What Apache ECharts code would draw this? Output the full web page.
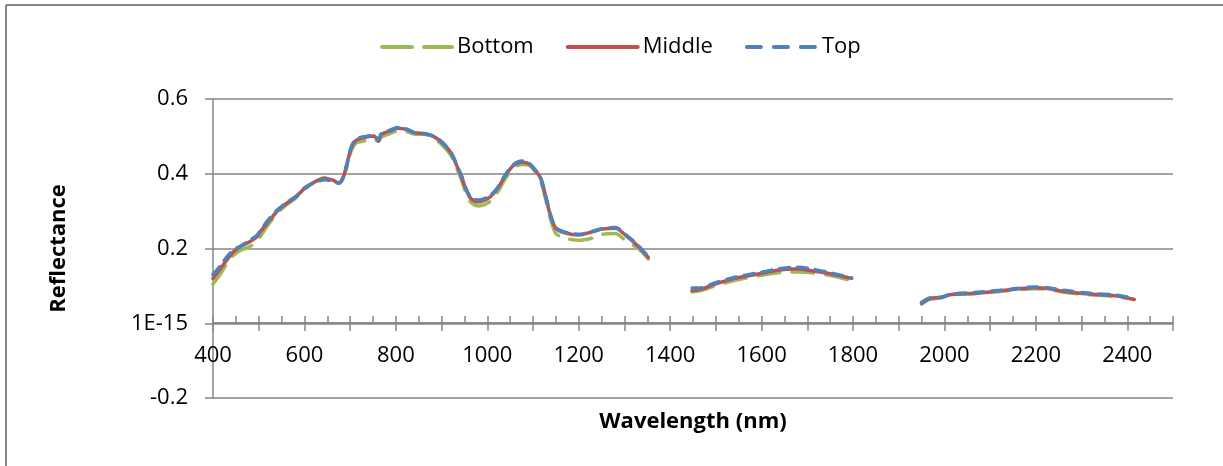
<!DOCTYPE html>
<html>
<head>
<meta charset="UTF-8">
<title>Reflectance</title>
<script src="https://cdn.jsdelivr.net/npm/echarts@6/dist/echarts.min.js"></script>
<style>
  html, body { margin: 0; padding: 0; background: #fff; }
  #main { width: 1223px; height: 466px; }
</style>
</head>
<body>
<div id="main"></div>
<script type="text/javascript">
// wavelengths (nm); null rows break the line at the water absorption gaps
var wavelength = [400, 415, 430, 445, 460, 480, 495, 505, 520, 540, 560, 580, 600, 625, 645, 662, 675, 683, 692, 702,
    713, 735, 752, 762, 768, 786, 805, 825, 840, 865, 885, 900, 920, 932, 943, 953, 964, 982, 1004, 1022,
    1040, 1058, 1076, 1091, 1105, 1117, 1128, 1138, 1150, 1170, 1200, 1230, 1252, 1280, 1302, 1330, 1352,
    1400,
    1448, 1470, 1498, 1542, 1593, 1636, 1673, 1702, 1753, 1797,
    1870,
    1950, 1968, 1993, 2015, 2066, 2138, 2197, 2226, 2262, 2320, 2378, 2415];

var bottom = [0.105, 0.130, 0.158, 0.182, 0.195, 0.205, 0.218, 0.235, 0.262, 0.294, 0.316, 0.334, 0.358, 0.380, 0.390, 0.383, 0.375, 0.385, 0.415, 0.460,
    0.482, 0.489, 0.492, 0.487, 0.498, 0.507, 0.514, 0.512, 0.506, 0.505, 0.494, 0.478, 0.450, 0.418, 0.385, 0.350, 0.324, 0.314, 0.324, 0.350,
    0.388, 0.416, 0.425, 0.423, 0.405, 0.380, 0.330, 0.280, 0.240, 0.228, 0.222, 0.228, 0.238, 0.240, 0.222, 0.200, 0.172,
    null,
    0.084, 0.088, 0.100, 0.115, 0.127, 0.135, 0.137, 0.136, 0.127, 0.114,
    null,
    0.051, 0.064, 0.068, 0.076, 0.079, 0.087, 0.092, 0.091, 0.083, 0.076, 0.071, 0.063];

var middle = [0.120, 0.144, 0.169, 0.191, 0.205, 0.218, 0.230, 0.247, 0.270, 0.299, 0.320, 0.337, 0.360, 0.380, 0.387, 0.383, 0.375, 0.385, 0.420, 0.467,
    0.489, 0.498, 0.501, 0.487, 0.505, 0.514, 0.522, 0.518, 0.510, 0.507, 0.498, 0.484, 0.457, 0.425, 0.394, 0.360, 0.334, 0.325, 0.336, 0.360,
    0.396, 0.423, 0.431, 0.427, 0.409, 0.387, 0.338, 0.289, 0.254, 0.242, 0.236, 0.245, 0.252, 0.254, 0.236, 0.206, 0.176,
    null,
    0.087, 0.092, 0.105, 0.120, 0.132, 0.142, 0.145, 0.142, 0.132, 0.120,
    null,
    0.053, 0.066, 0.069, 0.077, 0.080, 0.089, 0.095, 0.093, 0.085, 0.078, 0.073, 0.064];

var top_ = [0.130, 0.152, 0.177, 0.196, 0.206, 0.222, 0.234, 0.250, 0.275, 0.302, 0.322, 0.338, 0.362, 0.378, 0.384, 0.380, 0.375, 0.385, 0.422, 0.470,
    0.492, 0.500, 0.503, 0.490, 0.507, 0.516, 0.524, 0.519, 0.510, 0.507, 0.499, 0.486, 0.458, 0.427, 0.396, 0.362, 0.336, 0.330, 0.340, 0.362,
    0.398, 0.425, 0.434, 0.428, 0.410, 0.388, 0.340, 0.291, 0.256, 0.244, 0.238, 0.246, 0.253, 0.256, 0.238, 0.208, 0.178,
    null,
    0.094, 0.095, 0.108, 0.123, 0.135, 0.145, 0.150, 0.147, 0.134, 0.121,
    null,
    0.056, 0.068, 0.070, 0.078, 0.082, 0.090, 0.097, 0.095, 0.088, 0.080, 0.075, 0.066];

var seriesNames = ['Bottom', 'Middle', 'Top'];

function pairs(vals) {
    var out = [];
    for (var i = 0; i < wavelength.length; i++) {
        out.push([wavelength[i], vals[i] == null ? null : vals[i]]);
    }
    return out;
}

var gray = '#868686';
var font = '"Open Sans", "DejaVu Sans", sans-serif';
// x axis sits on the zero line: 0.2 of the 0.8 span above the bottom of the grid
var zeroOffset = -75;

var myChart = echarts.init(document.getElementById('main'));

var option = {
    animation: false,
    textStyle: { fontFamily: font },
    graphic: [
        { type: 'line', shape: { x1: 6, y1: 5, x2: 1223, y2: 5 }, style: { stroke: gray, lineWidth: 2 } },
        { type: 'line', shape: { x1: 6, y1: 5, x2: 6, y2: 466 }, style: { stroke: gray, lineWidth: 2 } }
    ],
    legend: {
        left: 375,
        top: 31,
        itemWidth: 70,
        itemHeight: 14,
        itemGap: 32,
        itemStyle: { opacity: 0 },
        lineStyle: { width: 4 },
        textStyle: { fontSize: 22, color: '#000', fontFamily: font },
        data: [
            { name: seriesNames[0], lineStyle: { type: [30, 12] } },
            { name: seriesNames[1] },
            { name: seriesNames[2], lineStyle: { type: [14, 13] } }
        ]
    },
    grid: {
        left: 213,
        right: 50,
        top: 99,
        bottom: 68,
        containLabel: false,
        outerBoundsMode: 'none'
    },
    xAxis: [
        {
            type: 'value',
            position: 'bottom',
            offset: zeroOffset,
            min: 400,
            max: 2500,
            interval: 100,
            name: 'Wavelength (nm)',
            nameLocation: 'middle',
            nameGap: 88,
            nameTextStyle: { fontSize: 22, fontWeight: 'bold', color: '#000', fontFamily: font },
            axisLine: { onZero: false, lineStyle: { color: gray, width: 1.5 } },
            axisTick: { show: true, length: 8, lineStyle: { color: gray, width: 1.5 } },
            axisLabel: {
                margin: 22,
                fontSize: 22,
                color: '#000',
                fontFamily: font,
                formatter: function (v) { return v % 200 === 0 ? String(v) : ''; }
            },
            splitLine: { show: false }
        },
        {
            type: 'value',
            position: 'bottom',
            offset: zeroOffset,
            min: 400,
            max: 2500,
            interval: 50,
            axisLine: { onZero: false, lineStyle: { color: gray, width: 1.5 } },
            axisTick: { show: true, inside: true, length: 7, lineStyle: { color: gray, width: 1.5 } },
            axisLabel: { show: false },
            splitLine: { show: false }
        }
    ],
    yAxis: {
        type: 'value',
        min: -0.2,
        max: 0.6,
        interval: 0.2,
        name: 'Reflectance',
        nameLocation: 'middle',
        nameGap: 143,
        nameTextStyle: { fontSize: 22, fontWeight: 'bold', color: '#000', fontFamily: font },
        axisLine: { show: true, lineStyle: { color: gray, width: 1.5 } },
        axisTick: { show: true, length: 8, lineStyle: { color: gray, width: 1.5 } },
        axisLabel: {
            margin: 25,
            fontSize: 22,
            color: '#000',
            fontFamily: font,
            formatter: function (v) {
                if (Math.abs(v) < 1e-9) return '1E-15';
                return String(+v.toFixed(1));
            }
        },
        splitLine: { show: true, lineStyle: { color: gray, width: 1.5 } }
    },
    series: [
        {
            name: 'Bottom',
            type: 'line',
            xAxisIndex: 0,
            smooth: 0.3,
            symbol: 'none',
            connectNulls: false,
            lineStyle: { color: '#9BBB59', width: 3.5, type: [22, 12], cap: 'round' },
            itemStyle: { color: '#9BBB59' },
            data: pairs(bottom)
        },
        {
            name: 'Middle',
            type: 'line',
            xAxisIndex: 0,
            smooth: 0.3,
            symbol: 'none',
            connectNulls: false,
            lineStyle: { color: '#C0504D', width: 3.5, cap: 'round' },
            itemStyle: { color: '#C0504D' },
            data: pairs(middle)
        },
        {
            name: 'Top',
            type: 'line',
            xAxisIndex: 0,
            smooth: 0.3,
            symbol: 'none',
            connectNulls: false,
            lineStyle: { color: '#4F81BD', width: 3.5, type: [10, 8], cap: 'round' },
            itemStyle: { color: '#4F81BD' },
            data: pairs(top_)
        }
    ]
};

myChart.setOption(option);
window.onresize = function () {
    myChart.resize();
};
</script>
</body>
</html>
